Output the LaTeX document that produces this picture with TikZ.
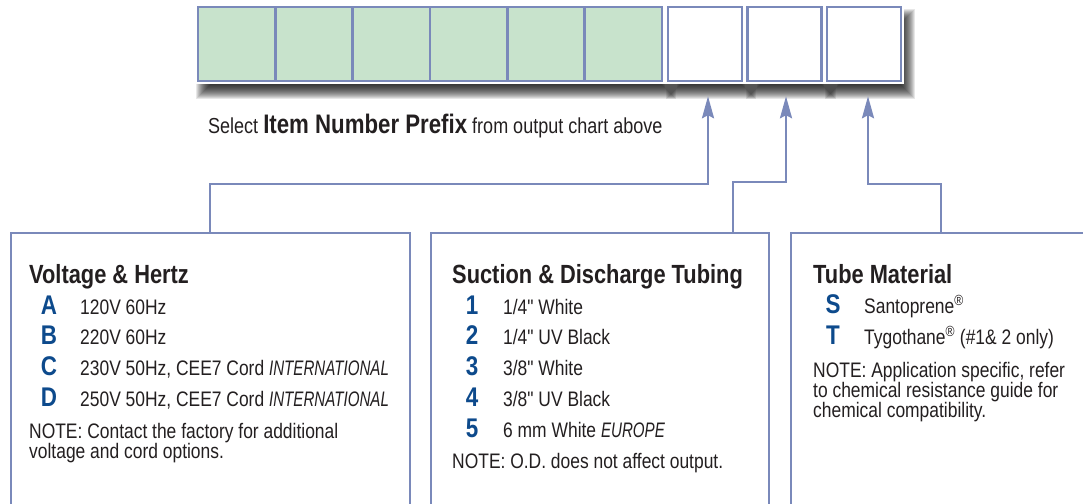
\documentclass[tikz,border=0pt]{standalone}
\usepackage{fontspec}
\setmainfont{Liberation Sans}
\newfontfamily\cf[FakeStretch=0.83]{Liberation Sans}
\newfontfamily\cfit[FakeStretch=0.72]{Liberation Sans Italic}
\usetikzlibrary{arrows.meta}
\definecolor{frame}{HTML}{7A89BA}
\definecolor{cellgreen}{HTML}{C8E3CC}
\definecolor{codeblue}{HTML}{0D4A8C}
\definecolor{ink}{HTML}{231F20}
\newcommand\dropshade[4]{%
  \foreach \d in {-6,...,8}{\fill[black,opacity=0.095] ({#1+6-\d},{#2+10-\d}) rectangle ({#3+6+\d},{#4+10+\d});}%
}
\newcommand\halo[4]{\fill[white] ({#1-3},{#2-3}) rectangle ({#3+3},{#4+3});}
\newcommand\itw[1]{{\cfit #1}}
\tikzset{
  cell/.style={draw=frame, line width=2.5pt, minimum width=77.33pt, minimum height=74pt, inner sep=0pt, fill=cellgreen},
  wcell/.style={cell, fill=white, minimum width=74pt},
  panel/.style={draw=frame, line width=2.4pt, anchor=north west, inner sep=0pt, fill=white, minimum height=330pt},
  conn/.style={draw=frame, line width=2.4pt, -{Stealth[length=22pt,width=12pt,inset=3pt]}, shorten >=14pt},
  head/.style={anchor=base west, inner sep=0pt, text=ink, font=\cf\fontsize{26.3}{30}\selectfont\bfseries},
  code/.style={anchor=base, inner sep=0pt, text=codeblue, font=\cf\fontsize{27}{30}\selectfont\bfseries},
  item/.style={anchor=base west, inner sep=0pt, text=ink, font=\cf\fontsize{21}{24}\selectfont},
}
\begin{document}
\begin{tikzpicture}[x=1pt,y=-1pt]
\useasboundingbox (0,0) rectangle (1083,503);
\clip (0,0) rectangle (1083,503);
% shadows
\dropshade{198}{7}{662}{81}
\dropshade{668}{7}{742}{81}
\dropshade{747.5}{7}{821.5}{81}
\dropshade{827}{7}{901}{81}
\halo{198}{7}{662}{81}
\halo{668}{7}{742}{81}
\halo{747.5}{7}{821.5}{81}
\halo{827}{7}{901}{81}
% top cells
\foreach \i in {1,...,6} \node[cell] (g\i) at ({198+77.333*(\i-0.5)},44) {};
\node[wcell] (c7) at (705,44) {};
\node[wcell] (c8) at (784.5,44) {};
\node[wcell] (c9) at (864,44) {};
% caption
\node[anchor=base west, inner sep=0pt, text=ink] (sel) at (208,133)
  {\cf\fontsize{21.7}{24}\selectfont Select {\fontsize{26.8}{30}\selectfont\bfseries Item Number Prefix} from output chart above};
% panels
\node[panel, minimum width=399pt] (b1) at (10,232) {};
\node[panel, minimum width=338pt] (b2) at (430,232) {};
\node[panel, minimum width=400pt] (b3) at (790,232) {};
% connectors
\coordinate (j1) at (708,184);
\coordinate (j2) at (786,182);
\coordinate (j3) at (868,184);
\draw[conn] ([xshift=200pt]b1.north west) |- (j1) -- (j1 |- c7.south);
\draw[conn] ([xshift=303pt]b2.north west) |- (j2) -- (j2 |- c8.south);
\draw[conn] ([xshift=151pt]b3.north west) |- (j3) -- (j3 |- c9.south);
% panel 1
\node[head] (h1) at (29,283) {Voltage \& Hertz};
\node[code] (kA) at (49,314) {A};
\node[code] (kB) at (49,344) {B};
\node[code] (kC) at (49,375) {C};
\node[code] (kD) at (49,406) {D};
\node[item] (tA) at (80,314) {120V 60Hz};
\node[item] (tB) at (80,344) {220V 60Hz};
\node[item] (tC) at (80,375) {230V 50Hz, CEE7 Cord \itw{INTERNATIONAL}};
\node[item] (tD) at (80,406) {250V 50Hz, CEE7 Cord \itw{INTERNATIONAL}};
\node[item] (n1a) at (29,438) {NOTE: Contact the factory for additional};
\node[item] (n1b) at (29,458) {voltage and cord options.};
% panel 2
\node[head] (h2) at (452,283) {Suction \& Discharge Tubing};
\node[code] (k1) at (472,314) {1};
\node[code] (k2) at (472,344) {2};
\node[code] (k3) at (472,375) {3};
\node[code] (k4) at (472,406) {4};
\node[code] (k5) at (472,437) {5};
\node[item] (t1) at (503,314) {1/4" White};
\node[item] (t2) at (503,344) {1/4" UV Black};
\node[item] (t3) at (503,375) {3/8" White};
\node[item] (t4) at (503,406) {3/8" UV Black};
\node[item] (t5) at (503,437) {6 mm White \itw{EUROPE}};
\node[item] (n2) at (452,468) {NOTE: O.D. does not affect output.};
% panel 3
\node[head] (h3) at (813,283) {Tube Material};
\node[code] (kS) at (833,313) {S};
\node[code] (kT) at (833,344) {T};
\node[item] (tS) at (864,313) {Santoprene\textsuperscript{®}};
\node[item] (tT) at (864,344) {Tygothane\textsuperscript{®} (\#1\& 2 only)};
\node[item] (n3a) at (813,377) {NOTE: Application specific, refer};
\node[item] (n3b) at (813,397) {to chemical resistance guide for};
\node[item] (n3c) at (813,417) {chemical compatibility.};
\end{tikzpicture}
\end{document}
